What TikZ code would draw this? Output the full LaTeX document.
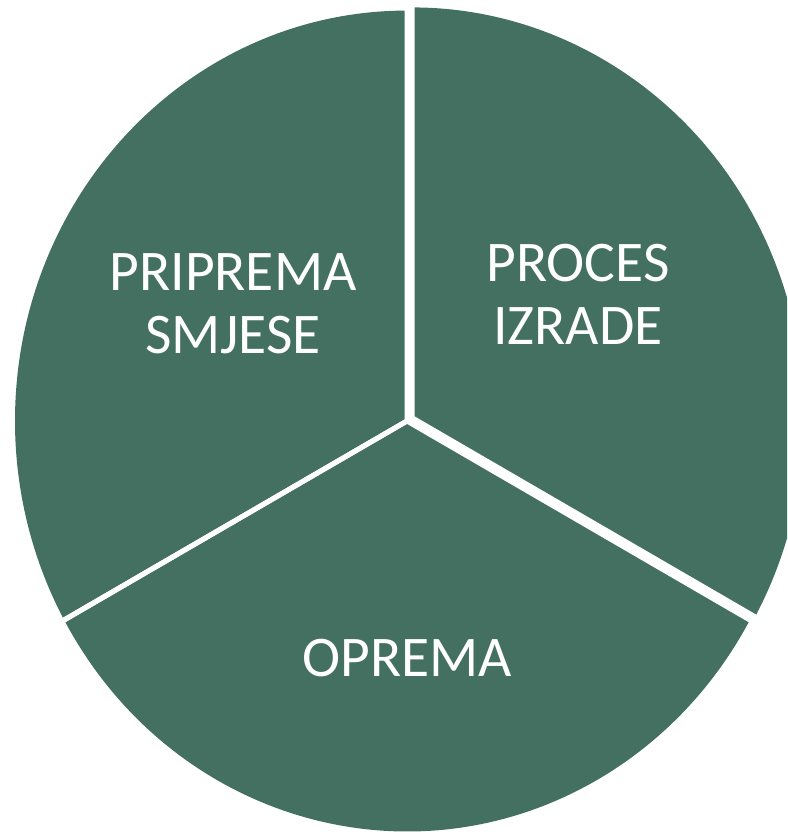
\documentclass[tikz,border=0pt]{standalone}
\usepackage{fontspec}
\setmainfont{Carlito}
\definecolor{piegreen}{RGB}{67,112,96}
\begin{document}
\begin{tikzpicture}[x=1pt,y=1pt,
  slice/.style={fill=piegreen},
  sep/.style={draw=white,line width=5pt},
  lbl/.style={text=white,font=\fontsize{57.5}{63}\selectfont,align=center,inner sep=0pt}]
\useasboundingbox (0,0) rectangle (787,834);
\clip (0,0) rectangle (787,834);
\begin{scope}[shift={(407,413)},yscale=1.047]
  % left slice
  \fill[slice] (0,0) -- (90:392) arc[start angle=90,end angle=209,radius=392] -- cycle;
  % bottom slice
  \fill[slice] (0,0) -- (209:392) arc[start angle=209,end angle=331,radius=392] -- cycle;
  % right slice (exploded)
  \begin{scope}[shift={(30:6)}]
    \fill[slice] (0,0) -- (331:392) arc[start angle=-29,end angle=90,radius=392] -- cycle;
    \draw[sep] (90:400) -- (0,0) -- (331:400);
  \end{scope}
  \draw[sep] (90:400) -- (0,0) -- (209:400);
  \draw[sep] (209:400) -- (0,0) -- (331:400);
\end{scope}
\node[lbl] (prip) at (233,530.5) {PRIPREMA\\SMJESE};
\node[lbl] (proc) at (578,539.5) {PROCES\\IZRADE};
\node[lbl] (opr) at (407,176) {OPREMA};
\end{tikzpicture}
\end{document}
